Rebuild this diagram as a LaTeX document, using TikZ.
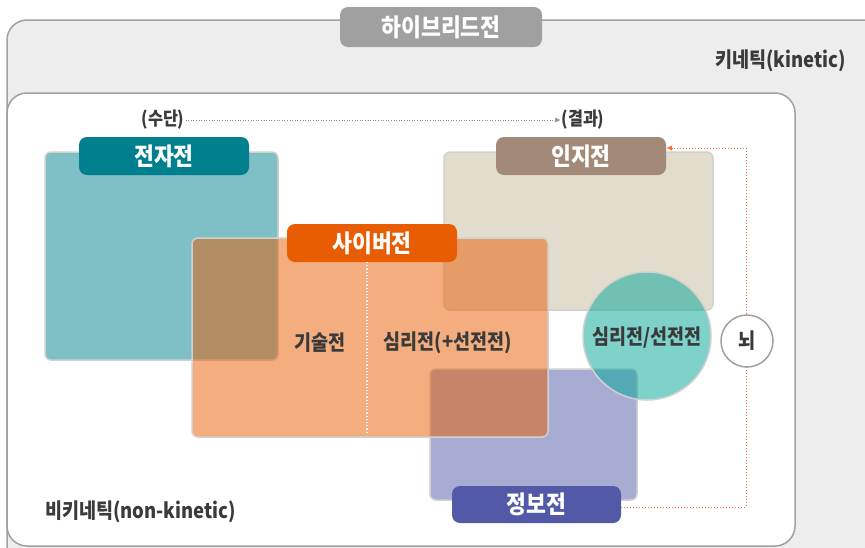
\documentclass[tikz,border=0pt]{standalone}
\usepackage{fontspec}
\setmainfont{Noto Sans CJK KR}[FakeStretch=0.88]
\usetikzlibrary{arrows.meta}
\definecolor{txt}{HTML}{3A3A3A}
\definecolor{frame}{HTML}{A0A0A0}
\definecolor{outerbg}{HTML}{EDEDED}
\definecolor{hybrid}{HTML}{A0A0A0}
\definecolor{ew}{HTML}{00808F}
\definecolor{cog}{HTML}{A38A78}
\definecolor{cogbg}{HTML}{E2DCCD}
\definecolor{cyber}{HTML}{E85D01}
\definecolor{info}{HTML}{525AA8}
\definecolor{psy}{HTML}{00A797}
\definecolor{link}{HTML}{EE7A30}
\begin{document}
\begin{tikzpicture}[x=1pt,y=-1pt,
  tab/.style={rounded corners=8pt, text=white, font=\bfseries\fontsize{24.5}{26}\selectfont, minimum height=38pt, minimum width=170pt, inner sep=0pt},
  area/.style={rounded corners=6pt, draw=black!18, line width=1.5pt, inner sep=0pt},
  lbl/.style={font=\bfseries\fontsize{21}{23}\selectfont, text=txt, inner sep=0pt},
  small/.style={font=\bfseries\fontsize{18.5}{20}\selectfont, text=txt, inner sep=1pt}]
\useasboundingbox (0,0) rectangle (865,547);
\clip (0,0) rectangle (865,547);
% frames
\draw[fill=outerbg, draw=frame, line width=1.5pt, rounded corners=20pt] (7,20) rectangle (920,620);
\draw[fill=white, draw=frame, line width=1.5pt, rounded corners=20pt] (7,93) rectangle (795,546);
\node[tab, fill=hybrid, minimum width=202pt, minimum height=40pt] (hy) at (441,27) {하이브리드전};
\node[lbl, anchor=east] (kin) at (846,61) {키네틱(kinetic)};
\node[lbl, anchor=west] (nonkin) at (45,512) {비키네틱(non-kinetic)};
% means -> result
\node[small] (su) at (163,120) {(수단)};
\node[small] (gw) at (583,120) {(결과)};
\draw[black!45, line width=0.6pt, dotted, -{Latex[length=5pt,width=5pt]}] (su.east) -- (gw.west);
% areas
\node[area, fill=cogbg, minimum width=269pt, minimum height=158pt] (cogA) at (578.5,231) {};
\node[area, fill=ew, fill opacity=0.5, minimum width=233pt, minimum height=208pt] (ewA) at (161.5,256) {};
\node[area, fill=info, fill opacity=0.5, minimum width=207pt, minimum height=131pt] (inA) at (533.5,434.5) {};
\node[area, fill=cyber, fill opacity=0.5, minimum width=356pt, minimum height=199pt] (cyA) at (370,337.5) {};
\node[circle, draw=black!18, line width=1.5pt, fill=psy, fill opacity=0.5, minimum size=128pt, inner sep=0pt] (psyC) at (647,336) {};
% tabs
\node[tab, fill=ew] (ewT) at (164,156) {전자전};
\node[tab, fill=cog] (cogT) at (581,156) {인지전};
\node[tab, fill=cyber] (cyT) at (372,243) {사이버전};
\node[tab, fill=info, minimum height=37pt, minimum width=169pt] (inT) at (536.5,504.5) {정보전};
% divider in cyber area
\coordinate (dv1) at (367,262);
\coordinate (dv2) at (367,432);
\draw[white, line width=1.2pt, dotted] (dv1) -- (dv2);
% labels
\node[lbl] (tech) at (320,343) {기술전};
\node[lbl] (psyw) at (448,343) {심리전(+선전전)};
\node[lbl] (psyc) at (647,338) {심리전/선전전};
% feedback link
\coordinate (lk1) at (746,507);
\coordinate (lk2) at (746,148);
\draw[link, line width=1pt, dotted, -{Latex[length=6pt,width=6pt]}] (inT.east |- lk1) -- (lk1) -- (lk2) -- (cogT.east |- lk2);
\node[circle, draw=frame, line width=1.5pt, fill=white, minimum size=52pt, inner sep=0pt, lbl] (brain) at (747,341) {뇌};
\end{tikzpicture}
\end{document}
